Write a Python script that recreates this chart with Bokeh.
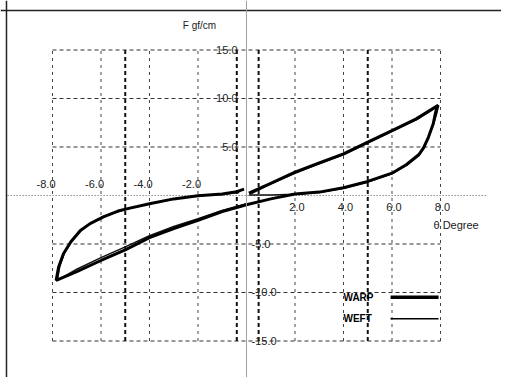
import math
from bokeh.plotting import figure
from bokeh.models import Span, Range1d
from bokeh.core.properties import value
from bokeh.embed import file_html
from bokeh.resources import INLINE

NaN = float("nan")

# tick values / labels
x_ticks = [-8, -6, -4, -2, 2, 4, 6, 8]
x_labels = ["-8.0", "-6.0", "-4.0", "-2.0", "2.0", "4.0", "6.0", "8.0"]
y_ticks = [15, 10, 5, -5, -10, -15]
y_labels = ["15.0", "10.0", "5.0", "-5.0", "-10.0", "-15.0"]
bold_grid_x = [-5, -0.4, 0.5, 5]

# WARP curve (thick): loading right, unloading through to the left, back up
warp_x = [0.1, 1.0, 2.0, 3.0, 4.0, 5.0, 6.0, 7.0, 7.9,
          7.8, 7.7, 7.5, 7.3, 7.1, 6.6, 6.0, 5.0, 4.0, 3.0, 2.0,
          1.0, 0.0, -1.0, -2.0, -3.0, -4.0, -5.0, -6.0, -7.0, -7.85,
          -7.75, -7.55, -7.25, -6.85, -6.45, -5.9, -5.3, -4.9, -4.0, -3.0, -2.0, -1.0, -0.4, -0.1]
warp_y = [0.25, 1.25, 2.4, 3.35, 4.3, 5.5, 6.7, 7.9, 9.3,
          8.6, 7.4, 6.0, 4.9, 4.2, 3.2, 2.3, 1.45, 0.8, 0.35, 0.15,
          -0.35, -0.95, -1.65, -2.55, -3.4, -4.35, -5.6, -6.7, -7.85, -8.75,
          -7.4, -6.0, -4.8, -3.6, -2.9, -2.2, -1.6, -1.35, -0.85, -0.35, -0.02, 0.15, 0.4, 0.65]

# WEFT curve (thin)
weft_x = [0.1, 1.0, 2.0, 3.0, 4.0, 5.0, 6.0, 6.6, 7.1, 7.3, 7.5, 7.7, 7.85, 7.9,
          7.0, 6.0, 5.0, 4.0, 3.0, 2.0, 1.0, 0.2, NaN,
          0.0, -1.0, -2.0, -3.0, -4.0, -5.0, -6.0, -7.0, -7.8,
          -7.7, -7.5, -7.2, -6.8, -6.4, -5.9, -5.0, -4.0, -3.0, -2.0, -1.0, -0.3]
weft_y = [0.05, 0.05, 0.12, 0.3, 0.75, 1.4, 2.25, 3.1, 4.1, 4.8, 5.9, 7.3, 8.5, 9.2,
          7.8, 6.6, 5.4, 4.2, 3.3, 2.3, 1.2, 0.2, NaN,
          -0.85, -1.55, -2.4, -3.2, -4.15, -5.3, -6.4, -7.6, -8.75,
          -7.3, -5.9, -4.7, -3.55, -2.85, -2.15, -1.45, -0.85, -0.35, 0.0, 0.1, 0.3]

legend_names = ["WARP", "WEFT"]
legend_widths = [3.5, 1.5]

W, H = 501, 377
p = figure(width=W, height=H, output_backend="svg", toolbar_location=None,
           x_range=Range1d(-10.144, 10.515), y_range=Range1d(-18.763, 20.103),
           min_border=0, x_axis_type=None, y_axis_type=None)
p.grid.visible = False
p.outline_line_color = None
p.background_fill_color = "white"
p.border_fill_color = "white"

# frame (left and top)
p.add_layout(Span(location=-9.897, dimension="height", line_color="#222222", line_width=1.5))
p.add_layout(Span(location=19.07, dimension="width", line_color="#222222", line_width=1.5))

# axes through origin
p.add_layout(Span(location=0, dimension="height", line_color="#a0a0a0", line_width=1))
p.segment(x0=[-9.85], y0=[0], x1=[9.94], y1=[0], line_color="#555555",
          line_width=1, line_dash="1 2")

ymin, ymax = min(y_ticks), max(y_ticks)
xmin, xmax = min(x_ticks), max(x_ticks)

# horizontal dashed grid
p.segment(x0=[xmin] * len(y_ticks), y0=y_ticks, x1=[xmax] * len(y_ticks), y1=y_ticks,
          line_color="#333333", line_width=1.2, line_dash="4 3")
# vertical dashed grid
p.segment(x0=x_ticks, y0=[ymin] * len(x_ticks), x1=x_ticks, y1=[ymax] * len(x_ticks),
          line_color="#444444", line_width=1, line_dash="3 4")
p.segment(x0=bold_grid_x, y0=[ymin] * len(bold_grid_x), x1=bold_grid_x, y1=[ymax] * len(bold_grid_x),
          line_color="#111111", line_width=2, line_dash="4 3")

# curves
p.line(weft_x, weft_y, line_color="#111111", line_width=1.5)
p.line(warp_x, warp_y, line_color="#000000", line_width=3)

font = value("Liberation Sans")
# x tick labels
neg = [(x, l) for x, l in zip(x_ticks, x_labels) if x < 0]
pos = [(x, l) for x, l in zip(x_ticks, x_labels) if x > 0]
p.text(x=[a for a, _ in neg], y=[0] * len(neg), text=[b for _, b in neg],
       text_font=font, text_font_size="11px", text_color="#222222",
       text_align="right", text_baseline="middle", x_offset=3, y_offset=-11)
p.text(x=[a for a, _ in pos], y=[0] * len(pos), text=[b for _, b in pos],
       text_font=font, text_font_size="11px", text_color="#222222",
       text_align="center", text_baseline="middle", x_offset=2, y_offset=12)
# y tick labels
ypos = [(y, l) for y, l in zip(y_ticks, y_labels) if y > 0]
yneg = [(y, l) for y, l in zip(y_ticks, y_labels) if y < 0]
p.text(x=[0] * len(ypos), y=[a for a, _ in ypos], text=[b for _, b in ypos],
       text_font=font, text_font_size="11px", text_color="#222222",
       text_align="right", text_baseline="middle", x_offset=-9)
p.text(x=[0] * len(yneg), y=[a for a, _ in yneg], text=[b for _, b in yneg],
       text_font=font, text_font_size="11px", text_color="#222222",
       text_align="left", text_baseline="middle", x_offset=5)

# axis titles
p.text(x=[-1.94], y=[17.53], text=["F gf/cm"], text_font=font, text_font_size="10px",
       text_color="#222222", text_align="center", text_baseline="middle")
p.text(x=[7.71], y=[-3.09], text=["θ Degree"], text_font=font, text_font_size="11px",
       text_color="#222222", text_align="left", text_baseline="middle")

# legend
leg_y = [-10.5, -12.7]
p.text(x=[4.0] * 2, y=leg_y, text=legend_names, text_font=font, text_font_size="10px",
       text_font_style="bold", text_color="#000000", text_align="left", text_baseline="middle")
for yy, lw in zip(leg_y, legend_widths):
    p.segment(x0=[5.94], y0=[yy], x1=[7.92], y1=[yy], line_color="#000000", line_width=lw)

open("out.html", "w").write(file_html(p, INLINE))
